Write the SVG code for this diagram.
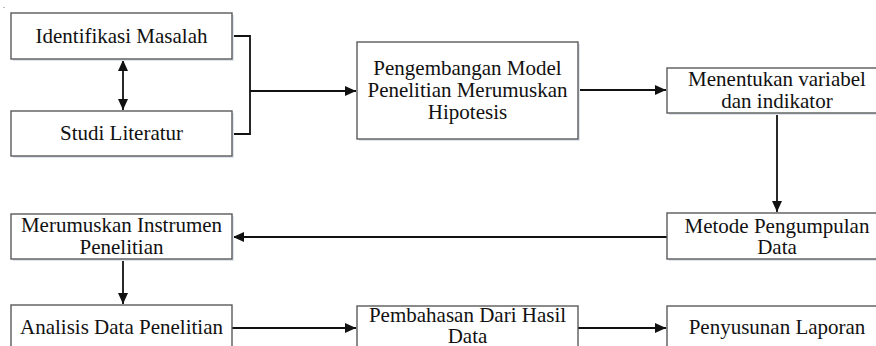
<svg xmlns="http://www.w3.org/2000/svg" width="876" height="346" viewBox="0 0 876 346">
<style>
.box{fill:#ffffff;stroke:#5a5a5a;stroke-width:1.4}
.sh{fill:#dfe5ef;stroke:none}
.t{font-size:21px;fill:#111;text-anchor:middle}
.c{fill:none;stroke:#111;stroke-width:1.8}
</style>
<defs>
<marker id="ah" markerUnits="userSpaceOnUse" markerWidth="12" markerHeight="12" viewBox="0 0 12 12" refX="11" refY="6" orient="auto">
<path d="M0,1 L11,6 L0,11 Z" fill="#111"/>
</marker>
<marker id="as" markerUnits="userSpaceOnUse" markerWidth="12" markerHeight="12" viewBox="0 0 12 12" refX="1" refY="6" orient="auto">
<path d="M12,1 L1,6 L12,11 Z" fill="#111"/>
</marker>
</defs>
<rect width="876" height="346" fill="#ffffff"/>
<g font-family="Liberation Serif, Times New Roman, DejaVu Serif, serif">
<text x="3" y="8" font-size="8" fill="#111">.</text>
<g id="connectors">
<line class="c" x1="123" y1="60" x2="123" y2="110" marker-start="url(#as)" marker-end="url(#ah)"/>
<polyline class="c" points="232,36 250,36 250,134 232,134"/>
<line class="c" x1="250" y1="91" x2="356" y2="91" marker-end="url(#ah)"/>
<line class="c" x1="578" y1="90" x2="666" y2="90" marker-end="url(#ah)"/>
<line class="c" x1="777" y1="113" x2="777" y2="212" marker-end="url(#ah)"/>
<line class="c" x1="667" y1="237" x2="233" y2="237" marker-end="url(#ah)"/>
<line class="c" x1="123" y1="259" x2="123" y2="304" marker-end="url(#ah)"/>
<line class="c" x1="232" y1="328" x2="356" y2="328" marker-end="url(#ah)"/>
<line class="c" x1="578" y1="328" x2="666" y2="328" marker-end="url(#ah)"/>
</g>
<g id="n1">
<rect class="sh" x="13" y="15" width="221" height="46"/>
<rect class="box" x="11" y="13" width="221" height="46"/>
<text class="t" x="121.5" y="43">Identifikasi Masalah</text>
</g>
<g id="n2">
<rect class="sh" x="13" y="113" width="221" height="45"/>
<rect class="box" x="11" y="111" width="221" height="45"/>
<text class="t" x="121.5" y="140">Studi Literatur</text>
</g>
<g id="n3">
<rect class="sh" x="359" y="44" width="221" height="97"/>
<rect class="box" x="357" y="42" width="221" height="97"/>
<text class="t" x="467.5" y="75">Pengembangan Model</text>
<text class="t" x="467.5" y="97">Penelitian Merumuskan</text>
<text class="t" x="467.5" y="119">Hipotesis</text>
</g>
<g id="n4">
<rect class="sh" x="669" y="70" width="221" height="45"/>
<rect class="box" x="667" y="68" width="221" height="45"/>
<text class="t" x="777" y="86">Menentukan variabel</text>
<text class="t" x="777" y="108">dan indikator</text>
</g>
<g id="n5">
<rect class="sh" x="669" y="215" width="221" height="46"/>
<rect class="box" x="667" y="213" width="221" height="46"/>
<text class="t" x="777" y="233">Metode Pengumpulan</text>
<text class="t" x="777" y="254">Data</text>
</g>
<g id="n6">
<rect class="sh" x="13" y="216" width="221" height="45"/>
<rect class="box" x="11" y="214" width="221" height="45"/>
<text class="t" x="121.5" y="232">Merumuskan Instrumen</text>
<text class="t" x="121.5" y="254">Penelitian</text>
</g>
<g id="n7">
<rect class="box" x="11" y="305" width="221" height="46"/>
<text class="t" x="121.5" y="334">Analisis Data Penelitian</text>
</g>
<g id="n8">
<rect class="box" x="357" y="306" width="221" height="46"/>
<text class="t" x="467.5" y="322">Pembahasan Dari Hasil</text>
<text class="t" x="467.5" y="343">Data</text>
</g>
<g id="n9">
<rect class="box" x="667" y="306" width="221" height="46"/>
<text class="t" x="777" y="334">Penyusunan Laporan</text>
</g>
</g>
</svg>
